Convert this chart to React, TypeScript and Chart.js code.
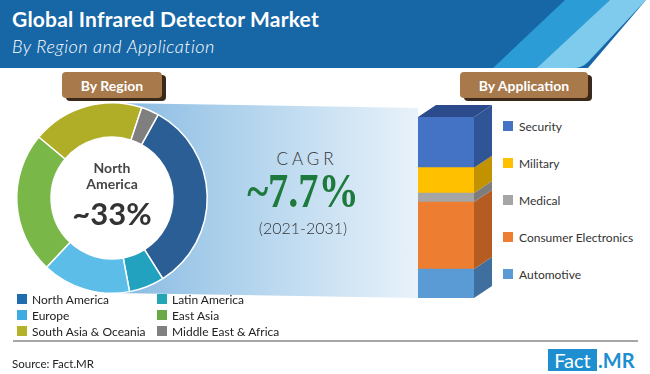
import React, { useEffect, useRef } from "react";
import { Chart, registerables } from "chart.js";
Chart.register(...registerables);

// ---- Region data (doughnut) ----
const regionLabels = ["North America", "Latin America", "Europe", "East Asia", "South Asia & Oceania", "Middle East & Africa"];
const regionShares = [33, 6, 15, 24, 19, 3];
const regionColors = ["#2b5e94", "#23a2c0", "#5bbde8", "#78b748", "#b0ad26", "#7f7f7f"];
const legendColors = ["#1f6cae", "#25a6b4", "#3eabe2", "#6aaa46", "#b3b22a", "#808080"];

// ---- Application data (stacked 3D bar), bottom to top ----
const appLabels = ["Automotive", "Consumer Electronics", "Medical", "Military", "Security"];
const appShares = [16, 37, 5, 14, 28];
const appColors = ["#5b9bd5", "#ed7d31", "#a5a5a5", "#ffc000", "#4472c4"];
const appSideColors = ["#3f6f9e", "#b55c22", "#7d7d7d", "#c39200", "#2f5597"];
const appTopColor = "#2b4b8c";

const FONT = "Lato, 'Open Sans', sans-serif";

const bar3dPlugin = {
  id: "bar3d",
  afterDatasetsDraw(chart: any) {
    const ctx = chart.ctx;
    const dx = 18;
    const dy = 12;
    const n = chart.data.datasets.length;
    ctx.save();
    for (let i = 0; i < n; i++) {
      const meta = chart.getDatasetMeta(i);
      const el = meta.data[0];
      if (!el) continue;
      const p = el.getProps(["x", "y", "base", "width"], true);
      const left = p.x - p.width / 2;
      const right = p.x + p.width / 2;
      const top = Math.min(p.y, p.base);
      const bot = Math.max(p.y, p.base);
      ctx.fillStyle = appSideColors[i];
      ctx.beginPath();
      ctx.moveTo(right, top);
      ctx.lineTo(right + dx, top - dy);
      ctx.lineTo(right + dx, bot - dy);
      ctx.lineTo(right, bot);
      ctx.closePath();
      ctx.fill();
      if (i === n - 1) {
        ctx.fillStyle = appTopColor;
        ctx.beginPath();
        ctx.moveTo(left, top);
        ctx.lineTo(right, top);
        ctx.lineTo(right + dx, top - dy);
        ctx.lineTo(left + dx, top - dy);
        ctx.closePath();
        ctx.fill();
      }
    }
    ctx.restore();
  },
};

function Pill({ left, top, width, text }: { left: number; top: number; width: number; text: string }) {
  return (
    <div style={{ position: "absolute", left, top, width, height: 26 }}>
      <div style={{ position: "absolute", left: 4, top: 3, width, height: 26, background: "#3b2a1b", borderRadius: 4 }} />
      <div
        style={{
          position: "absolute", left: 0, top: 0, width, height: 26, background: "#a7794b", borderRadius: 4,
          color: "#fff", font: `700 14px ${FONT}`, display: "flex", alignItems: "center", justifyContent: "center",
        }}
      >
        {text}
      </div>
    </div>
  );
}

export default function App() {
  const donutRef = useRef<HTMLCanvasElement>(null);
  const barRef = useRef<HTMLCanvasElement>(null);

  useEffect(() => {
    document.body.style.margin = "0";
    const donut = new Chart(donutRef.current!, {
      type: "doughnut",
      data: {
        labels: regionLabels,
        datasets: [
          {
            data: regionShares,
            backgroundColor: regionColors,
            borderColor: "#ffffff",
            borderWidth: 1.5,
            hoverOffset: 0,
            offset: 0,
          } as any,
        ],
      },
      options: {
        animation: false,
        responsive: false,
        devicePixelRatio: 1,
        events: [],
        rotation: 29,
        cutout: "64%",
        layout: { padding: 4 },
        plugins: { legend: { display: false }, tooltip: { enabled: false } },
      } as any,
    });

    const bar = new Chart(barRef.current!, {
      type: "bar",
      data: {
        labels: ["Application"],
        datasets: appLabels.map((l, i) => ({
          label: l,
          data: [appShares[i]],
          backgroundColor: appColors[i],
          borderWidth: 0,
          barPercentage: 1,
          categoryPercentage: 1,
        })),
      },
      options: {
        animation: false,
        responsive: false,
        devicePixelRatio: 1,
        events: [],
        layout: { padding: { left: 18, right: 26, top: 17, bottom: 7 } },
        scales: {
          x: { display: false, stacked: true },
          y: { display: false, stacked: true, min: 0, max: 100 },
        },
        plugins: { legend: { display: false }, tooltip: { enabled: false } },
      } as any,
      plugins: [bar3dPlugin],
    });
    return () => {
      donut.destroy();
      bar.destroy();
    };
  }, []);

  const appLegend = appLabels.map((l, i) => ({ l, c: appColors[i] })).reverse();

  return (
    <div style={{ position: "fixed", left: 0, top: 0, width: 650, height: 374, background: "#fff", overflow: "hidden", fontFamily: FONT }}>
      <svg width={650} height={374} style={{ position: "absolute", left: 0, top: 0 }}>
        <defs>
          <linearGradient id="fun" x1="0" y1="0" x2="1" y2="0">
            <stop offset="0" stopColor="#86b8e0" />
            <stop offset="0.35" stopColor="#aacfeb" />
            <stop offset="1" stopColor="#e8f2fa" />
          </linearGradient>
        </defs>
        <rect x={0} y={0} width={650} height={68} fill="#1766a6" />
        <polygon points="565,0 610,0 545,68 493,68" fill="#2b9cd6" />
        <path d="M610,0 L646,0 L588,62 Q582,68 574,68 L537,68 Z" fill="#7ecbed" />
        <polygon points="646,0 650,0 650,68 588,68" fill="#ffffff" />
        <polygon points="112,103 418,108 418,298 112,293" fill="url(#fun)" />
        <circle cx={112} cy={198} r={64} fill="#ffffff" />
        <line x1={13} y1={341} x2={638} y2={341} stroke="#8a8a8a" strokeWidth={1.5} />
      </svg>
      <div style={{ position: "absolute", left: 12, top: 6, color: "#fff", font: `700 21px ${FONT}`, letterSpacing: 0.2, whiteSpace: "nowrap" }}>
        Global Infrared Detector Market
      </div>
      <div style={{ position: "absolute", left: 12, top: 35, color: "#fff", font: `italic 300 18px ${FONT}`, letterSpacing: 0.5, whiteSpace: "nowrap" }}>
        By Region and Application
      </div>

      <Pill left={62} top={72} width={100} text="By Region" />
      <Pill left={460} top={72} width={128} text="By Application" />

      <canvas ref={donutRef} width={200} height={200} style={{ position: "absolute", left: 12, top: 98 }} />
      <div style={{ position: "absolute", left: 62, top: 160, width: 100, textAlign: "center", color: "#454545", font: `700 14px/16px ${FONT}` }}>
        North
        <br />
        America
      </div>
      <div style={{ position: "absolute", left: 52, top: 194, width: 120, textAlign: "center", color: "#333", font: `700 31px ${FONT}` }}>
        ~33%
      </div>

      <div style={{ position: "absolute", left: 243, top: 148, width: 120, textAlign: "center", color: "#333", font: `300 17px ${FONT}`, letterSpacing: 4, paddingLeft: 4 }}>
        CAGR
      </div>
      <div style={{ position: "absolute", left: 223, top: 167, width: 160, textAlign: "center", color: "#1d7a3c", font: `700 42px 'Liberation Serif', 'DejaVu Serif', serif`, transform: "scale(0.96, 1.16)", transformOrigin: "50% 50%" }}>
        ~7.7%
      </div>
      <div style={{ position: "absolute", left: 243, top: 218, width: 120, textAlign: "center", color: "#333", font: `300 16px ${FONT}` }}>
        (2021-2031)
      </div>

      <canvas ref={barRef} width={100} height={205} style={{ position: "absolute", left: 400, top: 100 }} />

      {appLegend.map((d, i) => (
        <div key={d.l} style={{ position: "absolute", left: 503, top: 126 + i * 37 - 8, height: 16, display: "flex", alignItems: "center", whiteSpace: "nowrap" }}>
          <span style={{ display: "inline-block", width: 10, height: 10, background: d.c, marginRight: 6 }} />
          <span style={{ color: "#333", font: `400 12px ${FONT}` }}>{d.l}</span>
        </div>
      ))}

      {regionLabels.map((l, i) => (
        <div key={l} style={{ position: "absolute", left: i % 2 === 0 ? 17 : 157, top: 299 + Math.floor(i / 2) * 16 - 8, height: 16, display: "flex", alignItems: "center", whiteSpace: "nowrap" }}>
          <span style={{ display: "inline-block", width: 10, height: 10, background: legendColors[i], marginRight: 5 }} />
          <span style={{ color: "#222", font: `400 12px ${FONT}` }}>{l}</span>
        </div>
      ))}

      <div style={{ position: "absolute", left: 12, top: 357, color: "#222", font: `400 11.5px ${FONT}` }}>Source: Fact.MR</div>
      <div style={{ position: "absolute", left: 548, top: 349, width: 49, height: 22, background: "#1d8fd1", color: "#fff", font: `400 20px/22px ${FONT}`, textAlign: "center" }}>
        Fact
      </div>
      <div style={{ position: "absolute", left: 598, top: 349, height: 22, color: "#1d8fd1", font: `700 20px/22px ${FONT}` }}>.MR</div>
    </div>
  );
}
